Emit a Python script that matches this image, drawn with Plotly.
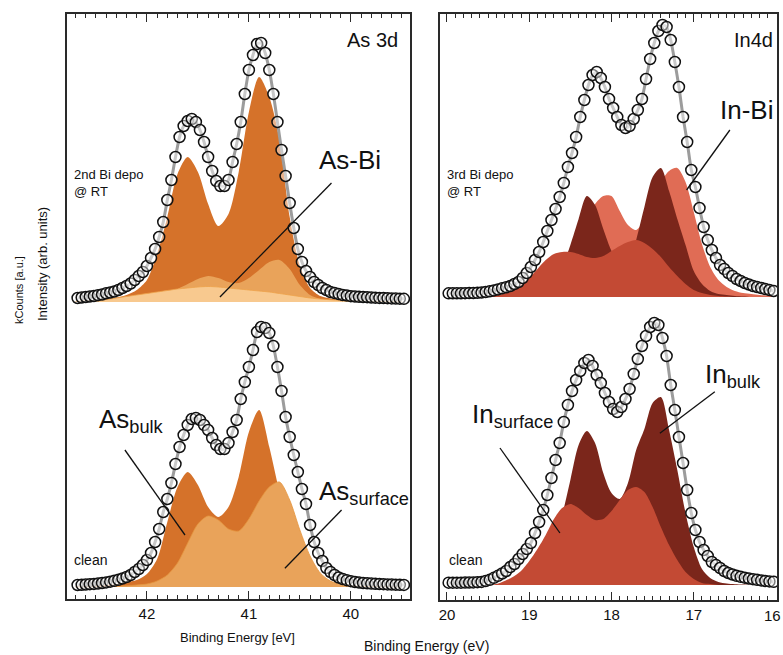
import numpy as np
import plotly.graph_objects as go

# ---------------- DATA ----------------
# As 3d measured points (kCounts, relative to each spectrum's own baseline)
AS_START, AS_STEP = 42.68, 0.04
AS_BI_DATA = [0.04, 0.045, 0.05, 0.055, 0.06, 0.068, 0.075, 0.087, 0.095, 0.105,
              0.12, 0.14, 0.16, 0.185, 0.22, 0.26, 0.30, 0.36, 0.44, 0.53,
              0.65, 0.80, 1.02, 1.22, 1.45, 1.65, 1.76, 1.81, 1.83, 1.80,
              1.72, 1.60, 1.45, 1.31, 1.21, 1.16, 1.16, 1.22, 1.40, 1.58,
              1.80, 2.08, 2.32, 2.47, 2.58, 2.59, 2.49, 2.32, 2.08, 1.80,
              1.52, 1.26, 0.99, 0.74, 0.53, 0.40, 0.31, 0.25, 0.20, 0.17,
              0.14, 0.12, 0.10, 0.09, 0.08, 0.07, 0.065, 0.058, 0.055, 0.052,
              0.05, 0.048, 0.045, 0.043, 0.041, 0.04, 0.038, 0.036, 0.035, 0.033,
              0.032]
AS_CLEAN_DATA = [0.02, 0.022, 0.025, 0.028, 0.031, 0.035, 0.04, 0.046, 0.053, 0.062,
                 0.072, 0.085, 0.10, 0.12, 0.15, 0.18, 0.22, 0.27, 0.34, 0.45,
                 0.58, 0.75, 0.88, 1.04, 1.23, 1.40, 1.52, 1.62, 1.68, 1.69,
                 1.67, 1.62, 1.57, 1.49, 1.42, 1.38, 1.38, 1.44, 1.55, 1.67,
                 1.88, 2.05, 2.20, 2.37, 2.55, 2.60, 2.59, 2.54, 2.41, 2.20,
                 1.96, 1.70, 1.50, 1.32, 1.15, 0.98, 0.83, 0.62, 0.45, 0.34,
                 0.26, 0.19, 0.15, 0.12, 0.095, 0.08, 0.068, 0.058, 0.05, 0.045,
                 0.04, 0.037, 0.034, 0.032, 0.03, 0.028, 0.026, 0.025, 0.023, 0.022,
                 0.021]
# As 3d fit components (42.7 -> 39.5 eV, 0.1 eV)
AS_COMP_START, AS_COMP_STEP = 42.7, 0.1
AS_BI_MAIN = [0.01, 0.015, 0.02, 0.03, 0.045, 0.07, 0.12, 0.22, 0.48, 0.85,
              1.28, 1.45, 1.30, 0.98, 0.76, 0.88, 1.30, 1.90, 2.25, 2.05,
              1.62, 0.85, 0.36, 0.14, 0.06, 0.035, 0.02, 0.015, 0.01, 0.008,
              0.005, 0.003, 0.0]
AS_BI_SURF = [0.0, 0.0, 0.003, 0.005, 0.008, 0.012, 0.018, 0.03, 0.05, 0.08,
              0.13, 0.18, 0.23, 0.26, 0.24, 0.20, 0.19, 0.24, 0.32, 0.40,
              0.42, 0.33, 0.17, 0.07, 0.03, 0.012, 0.006, 0.003, 0.0, 0.0,
              0.0, 0.0, 0.0]
AS_BI_ASBI = [0.005, 0.01, 0.015, 0.025, 0.04, 0.055, 0.07, 0.085, 0.10, 0.115,
              0.13, 0.14, 0.15, 0.155, 0.15, 0.14, 0.13, 0.12, 0.11, 0.10,
              0.085, 0.07, 0.055, 0.04, 0.03, 0.022, 0.016, 0.012, 0.009, 0.007,
              0.005, 0.004, 0.003]
AS_CLEAN_BULK = [0.005, 0.01, 0.015, 0.02, 0.03, 0.05, 0.07, 0.13, 0.28, 0.65,
                 1.00, 1.15, 1.02, 0.80, 0.70, 0.80, 1.10, 1.55, 1.77, 1.40,
                 0.95, 0.55, 0.25, 0.10, 0.04, 0.02, 0.01, 0.008, 0.005, 0.003,
                 0.002, 0.001, 0.0]
AS_CLEAN_SURF = [0.0, 0.0, 0.003, 0.005, 0.008, 0.012, 0.02, 0.03, 0.06, 0.12,
                 0.24, 0.44, 0.63, 0.71, 0.67, 0.58, 0.56, 0.68, 0.86, 1.00,
                 1.05, 0.87, 0.57, 0.31, 0.14, 0.06, 0.03, 0.015, 0.008, 0.005,
                 0.003, 0.002, 0.0]

# In 4d measured points
IN_START, IN_STEP = 19.98, 0.05
IN_BI_DATA = [0.037, 0.037, 0.037, 0.037, 0.038, 0.039, 0.040, 0.042, 0.045, 0.050,
              0.057, 0.066, 0.076, 0.087, 0.098, 0.11, 0.13, 0.15, 0.19, 0.24,
              0.30, 0.37, 0.45, 0.55, 0.66, 0.77, 0.88, 1.00, 1.14, 1.30,
              1.44, 1.60, 1.80, 1.97, 2.12, 2.22, 2.25, 2.19, 2.10, 1.98,
              1.89, 1.80, 1.72, 1.69, 1.71, 1.78, 1.87, 1.98, 2.18, 2.38,
              2.54, 2.66, 2.72, 2.70, 2.57, 2.35, 2.10, 1.80, 1.55, 1.27,
              1.10, 0.89, 0.70, 0.57, 0.47, 0.39, 0.32, 0.28, 0.24, 0.21,
              0.18, 0.16, 0.14, 0.125, 0.11, 0.10, 0.09, 0.08, 0.07, 0.06]
IN_CLEAN_DATA = [0.023, 0.023, 0.023, 0.023, 0.024, 0.025, 0.026, 0.028, 0.031, 0.040,
                 0.052, 0.072, 0.092, 0.115, 0.14, 0.18, 0.21, 0.26, 0.31, 0.36,
                 0.42, 0.52, 0.63, 0.75, 0.90, 1.07, 1.25, 1.42, 1.63, 1.80,
                 1.94, 2.05, 2.14, 2.22, 2.25, 2.19, 2.10, 2.02, 1.92, 1.83,
                 1.76, 1.73, 1.78, 1.86, 1.96, 2.11, 2.26, 2.39, 2.49, 2.58,
                 2.62, 2.60, 2.47, 2.29, 2.00, 1.75, 1.48, 1.22, 0.95, 0.72,
                 0.55, 0.43, 0.35, 0.29, 0.23, 0.20, 0.17, 0.14, 0.12, 0.105,
                 0.092, 0.082, 0.073, 0.065, 0.058, 0.052, 0.046, 0.041, 0.036, 0.032]
# In 4d fit components (20.0 -> 16.0 eV, 0.1 eV)
IN_COMP_START, IN_COMP_STEP = 20.0, 0.1
IN_BI_INBI = [0, 0, 0, 0, 0, 0, 0, 0.005, 0.01, 0.015,
              0.02, 0.05, 0.10, 0.18, 0.30, 0.45, 0.62, 0.80, 0.93, 1.01,
              1.01, 0.86, 0.72, 0.67, 0.78, 0.98, 1.15, 1.26, 1.29, 1.15,
              0.85, 0.53, 0.30, 0.17, 0.10, 0.06, 0.04, 0.03, 0.02, 0.015,
              0.01]
IN_BI_BULK = [0, 0, 0, 0, 0, 0, 0, 0.003, 0.006, 0.01,
              0.02, 0.04, 0.08, 0.16, 0.30, 0.52, 0.78, 1.01, 0.92, 0.68,
              0.46, 0.32, 0.30, 0.57, 0.90, 1.20, 1.29, 1.06, 0.78, 0.52,
              0.26, 0.13, 0.06, 0.03, 0.02, 0.01, 0.005, 0, 0, 0,
              0]
IN_BI_SURF = [0, 0, 0, 0, 0, 0.005, 0.015, 0.035, 0.07, 0.12,
              0.19, 0.28, 0.37, 0.43, 0.45, 0.45, 0.43, 0.40, 0.39, 0.41,
              0.46, 0.51, 0.55, 0.57, 0.54, 0.48, 0.40, 0.30, 0.21, 0.13,
              0.07, 0.04, 0.02, 0.01, 0.005, 0, 0, 0, 0, 0,
              0]
IN_CLEAN_BULK = [0, 0, 0, 0, 0, 0, 0, 0.01, 0.03, 0.06,
                 0.10, 0.17, 0.28, 0.45, 0.70, 1.05, 1.40, 1.54, 1.42, 1.12,
                 0.92, 0.86, 1.02, 1.35, 1.56, 1.82, 1.88, 1.55, 1.15, 0.72,
                 0.38, 0.16, 0.07, 0.03, 0.015, 0.008, 0.004, 0, 0, 0,
                 0]
IN_CLEAN_SURF = [0, 0, 0, 0, 0, 0, 0.01, 0.04, 0.08, 0.14,
                 0.24, 0.36, 0.50, 0.66, 0.77, 0.81, 0.77, 0.70, 0.65, 0.66,
                 0.74, 0.85, 0.95, 0.98, 0.93, 0.78, 0.58, 0.40, 0.25, 0.13,
                 0.06, 0.02, 0.01, 0, 0, 0, 0, 0, 0, 0,
                 0]

AS_TICKS = [42, 41, 40]
IN_TICKS = [20, 19, 18, 17, 16]

# ---------------- STYLE ----------------
FONT = "Liberation Sans, Arial, Helvetica, sans-serif"
W, H = 783, 655
AS_OFFSET = 2.85   # vertical offset of upper As spectrum
IN_OFFSET = 2.88   # vertical offset of upper In spectrum
C_AS_DARK, C_AS_MED, C_AS_LIGHT = "#d5722a", "#e9a35a", "#f8c98f"
C_IN_DARK, C_IN_SALMON, C_IN_RED = "#7b261b", "#e06c55", "#c34a34"
FIT_COLOR = "#9c9c9c"


def grid(start, step, n):
    return np.round(start - step * np.arange(n), 4)


fig = go.Figure()


def add_component(vals, start, step, offset, color, xa, ya, outline=None):
    x = grid(start, step, len(vals))
    fig.add_trace(go.Scatter(x=[x[0], x[-1]], y=[offset, offset], mode="lines",
                             line=dict(width=0), hoverinfo="skip",
                             xaxis=xa, yaxis=ya, showlegend=False))
    fig.add_trace(go.Scatter(x=x, y=np.array(vals) + offset, mode="lines",
                             line=dict(width=0.8 if outline else 0, color=outline or color,
                                       shape="spline", smoothing=0.8),
                             fill="tonexty", fillcolor=color, hoverinfo="skip",
                             xaxis=xa, yaxis=ya, showlegend=False))


def add_data(vals, start, step, offset, xa, ya):
    x = grid(start, step, len(vals))
    y = np.array(vals) + offset
    fig.add_trace(go.Scatter(x=x, y=y, mode="lines",
                             line=dict(color=FIT_COLOR, width=3, shape="spline", smoothing=0.6),
                             xaxis=xa, yaxis=ya, showlegend=False))
    fig.add_trace(go.Scatter(x=x, y=y, mode="markers",
                             marker=dict(symbol="circle", size=11, color="rgba(255,255,255,0.45)",
                                         line=dict(color="#111", width=1.5)),
                             xaxis=xa, yaxis=ya, showlegend=False))


# As 3d panel
add_component(AS_BI_MAIN, AS_COMP_START, AS_COMP_STEP, AS_OFFSET, C_AS_DARK, "x", "y")
add_component(AS_BI_SURF, AS_COMP_START, AS_COMP_STEP, AS_OFFSET, C_AS_MED, "x", "y")
add_component(AS_BI_ASBI, AS_COMP_START, AS_COMP_STEP, AS_OFFSET, C_AS_LIGHT, "x", "y", outline="#eea24a")
add_data(AS_BI_DATA, AS_START, AS_STEP, AS_OFFSET, "x", "y")
add_component(AS_CLEAN_BULK, AS_COMP_START, AS_COMP_STEP, 0, C_AS_DARK, "x", "y")
add_component(AS_CLEAN_SURF, AS_COMP_START, AS_COMP_STEP, 0, C_AS_MED, "x", "y", outline="#e5953f")
add_data(AS_CLEAN_DATA, AS_START, AS_STEP, 0, "x", "y")

# In 4d panel
add_component(IN_BI_INBI, IN_COMP_START, IN_COMP_STEP, IN_OFFSET, C_IN_SALMON, "x2", "y2")
add_component(IN_BI_BULK, IN_COMP_START, IN_COMP_STEP, IN_OFFSET, C_IN_DARK, "x2", "y2")
add_component(IN_BI_SURF, IN_COMP_START, IN_COMP_STEP, IN_OFFSET, C_IN_RED, "x2", "y2")
add_data(IN_BI_DATA, IN_START, IN_STEP, IN_OFFSET, "x2", "y2")
add_component(IN_CLEAN_BULK, IN_COMP_START, IN_COMP_STEP, 0, C_IN_DARK, "x2", "y2")
add_component(IN_CLEAN_SURF, IN_COMP_START, IN_COMP_STEP, 0, C_IN_RED, "x2", "y2")
add_data(IN_CLEAN_DATA, IN_START, IN_STEP, 0, "x2", "y2")

AX_COLOR = "#2a2a2a"
TICK_FONT = dict(family=FONT, size=15, color="#111")
xcommon = dict(showgrid=False, zeroline=False, showline=True, linecolor=AX_COLOR, linewidth=1.5,
               mirror="ticks", ticks="inside", ticklen=8, tickwidth=1.2, tickcolor=AX_COLOR,
               tickfont=TICK_FONT,
               minor=dict(dtick=0.1, ticks="inside", ticklen=4, tickwidth=1, tickcolor=AX_COLOR,
                          showgrid=False))
ycommon = dict(showgrid=False, zeroline=False, showline=True, linecolor=AX_COLOR, linewidth=1.5,
               mirror=True, ticks="", showticklabels=False)

fig.update_layout(
    width=W, height=H, margin=dict(l=0, r=0, t=0, b=0),
    paper_bgcolor="white", plot_bgcolor="white", showlegend=False,
    xaxis=dict(domain=[67 / W, 410 / W], range=[42.784, 39.42], tickvals=AS_TICKS,
               anchor="y", **xcommon),
    yaxis=dict(domain=[1 - 599 / H, 1 - 14 / H], range=[-0.12, 5.73], anchor="x", **ycommon),
    xaxis2=dict(domain=[440 / W, 777 / W], range=[20.085, 15.988], tickvals=IN_TICKS,
                anchor="y2", **xcommon),
    yaxis2=dict(domain=[1 - 600 / H, 1 - 14 / H], range=[-0.15, 5.71], anchor="x2", **ycommon),
)

ann = []


def txt(text, x, y, xref, yref, size, xanchor="center", yanchor="middle", **kw):
    ann.append(dict(text=text, x=x, y=y, xref=xref, yref=yref, showarrow=False,
                    xanchor=xanchor, yanchor=yanchor,
                    font=dict(family=FONT, size=size, color="#111"), **kw))


# As panel labels
txt("As 3d", 39.52, 5.47, "x", "y", 20, xanchor="right")
txt("2nd Bi depo<br>@ RT", 42.735, 4.04, "x", "y", 13, xanchor="left", align="left")
txt("As-Bi", 40.01, 4.27, "x", "y", 26)
txt("As<sub>bulk</sub>", 42.49, 1.67, "x", "y", 26, xanchor="left")
txt("As<sub>surface</sub>", 40.333, 0.95, "x", "y", 26, xanchor="left")
txt("clean", 42.735, 0.27, "x", "y", 14, xanchor="left")
# In panel labels
txt("In4d", 16.015, 5.45, "x2", "y2", 20, xanchor="right")
txt("3rd Bi depo<br>@ RT", 20.024, 4.02, "x2", "y2", 13, xanchor="left", align="left")
txt("In-Bi", 16.355, 4.75, "x2", "y2", 26)
txt("In<sub>bulk</sub>", 16.889, 2.10, "x2", "y2", 26, xanchor="left")
txt("In<sub>surface</sub>", 19.72, 1.70, "x2", "y2", 26, xanchor="left")
txt("clean", 20.0, 0.25, "x2", "y2", 14, xanchor="left")
# last tick label of In axis sits at the page edge: keep it inside the page
txt(str(IN_TICKS[-1]), 1.0, 1 - 615 / H, "paper", "paper", 15, xanchor="right")
# axis titles
txt("Binding Energy [eV]", 237 / W, 1 - 637 / H, "paper", "paper", 13)
txt("Binding Energy (eV)", 426 / W, 1 - 646 / H, "paper", "paper", 14)
txt("kCounts [a.u.]", 19 / W, 1 - 290 / H, "paper", "paper", 11, textangle=-90)
txt("Intensity (arb. units)", 42 / W, 1 - 264 / H, "paper", "paper", 13, textangle=-90)
fig.update_layout(annotations=ann)

# pointer lines
lines = [
    ("x", "y", 41.284, 2.90, 40.19, 4.04),
    ("x", "y", 42.216, 1.37, 41.627, 0.52),
    ("x", "y", 40.091, 0.77, 40.647, 0.187),
    ("x2", "y2", 16.561, 4.55, 17.087, 3.95),
    ("x2", "y2", 16.744, 1.933, 17.412, 1.517),
    ("x2", "y2", 19.356, 1.37, 18.627, 0.52),
]
for xr, yr, x0, y0, x1, y1 in lines:
    fig.add_shape(type="line", xref=xr, yref=yr, x0=x0, y0=y0, x1=x1, y1=y1,
                  line=dict(color="#111", width=1.3), layer="above")

fig.write_html("out.html")
